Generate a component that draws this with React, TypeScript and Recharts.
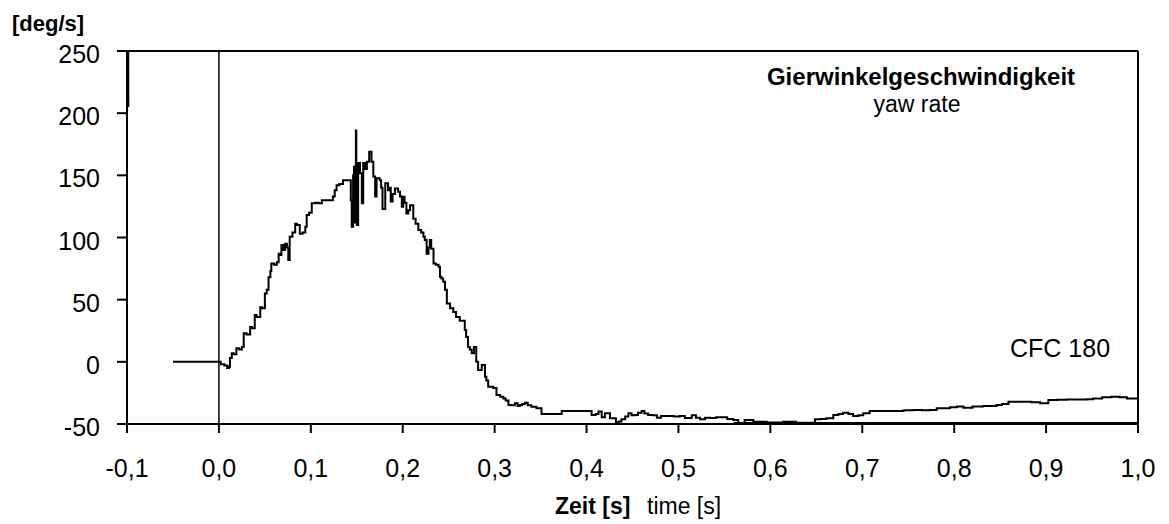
import React from "react";
import { LineChart, Line, XAxis, YAxis, ReferenceLine } from "recharts";

// time [s]
const timeValues: number[] = [
  -0.05, 0.0, 0.002, 0.006, 0.009, 0.011, 0.012, 0.014, 0.016, 0.019, 0.022, 0.025, 0.027, 0.03, 0.034, 0.036,
  0.039, 0.041, 0.045, 0.047, 0.05, 0.052, 0.054, 0.056, 0.057, 0.06, 0.063, 0.065, 0.067, 0.068, 0.07, 0.072,
  0.074, 0.0755, 0.077, 0.08, 0.083, 0.085, 0.088, 0.091, 0.094, 0.0955, 0.098, 0.101, 0.105, 0.108, 0.112,
  0.117, 0.121, 0.124, 0.126, 0.128, 0.131, 0.135, 0.142, 0.1435, 0.1445, 0.146, 0.147, 0.148, 0.149, 0.1495,
  0.15, 0.1515, 0.1535, 0.1555, 0.157, 0.159, 0.161, 0.1635, 0.166, 0.168, 0.17, 0.1715, 0.175, 0.1765, 0.178,
  0.181, 0.184, 0.1855, 0.187, 0.189, 0.1915, 0.195, 0.197, 0.199, 0.2005, 0.202, 0.204, 0.206, 0.208, 0.2115,
  0.214, 0.217, 0.22, 0.2225, 0.224, 0.226, 0.228, 0.2295, 0.231, 0.2335, 0.236, 0.239, 0.2405, 0.242, 0.244,
  0.246, 0.248, 0.2515, 0.255, 0.258, 0.262, 0.2675, 0.269, 0.271, 0.273, 0.275, 0.2775, 0.28, 0.282, 0.286,
  0.2895, 0.291, 0.293, 0.2985, 0.302, 0.306, 0.3095, 0.312, 0.315, 0.318, 0.322, 0.325, 0.3275, 0.33, 0.333,
  0.336, 0.34, 0.3455, 0.351, 0.3675, 0.373, 0.382, 0.4, 0.4055, 0.41, 0.413, 0.4165, 0.42, 0.4255, 0.432,
  0.435, 0.438, 0.442, 0.4455, 0.449, 0.4525, 0.456, 0.46, 0.463, 0.467, 0.472, 0.4765, 0.481, 0.487, 0.495,
  0.5015, 0.507, 0.5145, 0.519, 0.5235, 0.529, 0.5345, 0.541, 0.547, 0.553, 0.5597, 0.565, 0.572, 0.5815,
  0.596, 0.614, 0.628, 0.6415, 0.6485, 0.655, 0.661, 0.6685, 0.674, 0.679, 0.685, 0.69, 0.696, 0.701, 0.708,
  0.72, 0.7335, 0.745, 0.7555, 0.765, 0.7735, 0.781, 0.7955, 0.803, 0.81, 0.82, 0.8315, 0.846, 0.852, 0.859,
  0.8755, 0.884, 0.8935, 0.9025, 0.912, 0.9225, 0.9375, 0.945, 0.951, 0.961, 0.971, 0.98, 0.988, 1.0,
];

// yaw rate [deg/s]
const yawRate: number[] = [
  0, 0, -2, -3, -5, -4, 3, 7, 6, 11, 10, 12, 23, 22, 28, 27,
  37.6, 36, 44, 43, 55, 58, 68, 73, 79, 78, 80, 87, 86, 94, 90, 95,
  92, 82, 100.6, 104, 111, 110, 103, 104, 108.7, 118, 120, 127.5, 128, 127.5, 130,
  130, 130, 133, 138, 142, 143, 146, 146, 130, 108.7, 150, 157, 112, 186, 112,
  110, 160, 151.6, 127.5, 160, 155, 161, 169, 161, 149, 133, 147.6, 146, 140, 123,
  143.6, 138, 140, 129, 135, 139.5, 136.8, 133, 124.7, 132.8, 128, 119.4, 122, 126, 115,
  111, 106, 104, 100.6, 98, 87, 92, 98, 91, 79, 78, 76.5, 68.5, 67, 64.4,
  58, 47, 43, 40, 36, 33, 25.6, 20, 12, 10, 7, 12, 0, -6.6, -2.6,
  -12, -15, -20, -21, -26.7, -28, -29.4, -31, -34.7, -35, -33.4, -35.5, -34.7, -34, -32.9,
  -35, -36.1, -37.4, -42, -42, -39.6, -39.6, -39.6, -42.8, -42, -40, -44.6, -41.4, -45.4, -48.7,
  -48, -46.2, -44, -41.4, -43, -42.8, -41, -39.6, -41.5, -42.8, -43, -44.9, -43.6, -43.6, -44,
  -43.6, -45.2, -43, -45, -46.2, -45, -45.2, -44.6, -44.6, -46, -46.8, -49.5, -46.8, -48.2,
  -48.7, -48.2, -49, -49, -46.2, -46, -45.4, -42.8, -42, -40.9, -42, -43.6, -43, -41.4, -39.6,
  -39.6, -39.6, -39, -38.8, -39, -38.8, -37.4, -36.6, -36, -36.9, -36, -35.5, -34.7, -34, -32.1,
  -32.1, -32.5, -33.4, -30.7, -30.5, -30.2, -30.2, -30, -29.4, -28.5, -28.1, -28.5, -29.4, -29.4,
];

// short trace at the left edge (clipped at the top)
const edgeTime: number[] = [-0.0991, -0.0988];
const edgeValues: number[] = [320, 205];

// trace hugging the bottom axis
const bottomTime: number[] = [0.56, 1.0];
const bottomValues: number[] = [-49.2, -49.2];

const xTicks: number[] = [-0.1, 0, 0.1, 0.2, 0.3, 0.4, 0.5, 0.6, 0.7, 0.8, 0.9, 1.0];
const yTicks: number[] = [-50, 0, 50, 100, 150, 200, 250];

const mainData = timeValues.map((t, i) => ({ t, v: yawRate[i] }));
const edgeData = edgeTime.map((t, i) => ({ t, v: edgeValues[i] }));
const bottomData = bottomTime.map((t, i) => ({ t, v: bottomValues[i] }));

const FONT = '"Liberation Sans", Arial, Helvetica, sans-serif';

const fmt = (v: number) => v.toFixed(1).replace(".", ",");

const XTick = (props: any) => {
  const { x, y, payload } = props;
  return (
    <text x={x} y={y + 44} textAnchor="middle" fontSize={25} fontFamily={FONT} fill="#000">
      {fmt(payload.value)}
    </text>
  );
};

const YTick = (props: any) => {
  const { x, y, payload } = props;
  return (
    <text x={x} y={y + 12} textAnchor="end" fontSize={25} fontFamily={FONT} fill="#000">
      {String(payload.value)}
    </text>
  );
};

export default function App() {
  const W = 1160;
  const H = 516;
  return (
    <div style={{ position: "relative", width: W, height: H, background: "#fff" }}>
      <LineChart width={W} height={H} margin={{ top: 43, right: 30, left: 19, bottom: 40 }}>
        <XAxis
          dataKey="t"
          type="number"
          domain={[-0.1, 1.0]}
          ticks={xTicks}
          allowDataOverflow
          height={60}
          tickSize={9}
          tickMargin={0}
          axisLine={{ stroke: "#000", strokeWidth: 2 }}
          tickLine={{ stroke: "#000", strokeWidth: 2 }}
          tick={<XTick />}
          interval={0}
        />
        <YAxis
          type="number"
          domain={[-50, 250]}
          ticks={yTicks}
          allowDataOverflow
          width={100}
          tickSize={10}
          tickMargin={17}
          axisLine={{ stroke: "#000", strokeWidth: 2 }}
          tickLine={{ stroke: "#000", strokeWidth: 2 }}
          tick={<YTick />}
          interval={0}
        />
        <ReferenceLine y={250} stroke="#000" strokeWidth={2} />
        <ReferenceLine x={1.0} stroke="#000" strokeWidth={2} />
        <ReferenceLine x={0} stroke="#000" strokeWidth={1.5} />
        <Line
          data={bottomData}
          dataKey="v"
          type="linear"
          stroke="#000"
          strokeWidth={1.8}
          dot={false}
          isAnimationActive={false}
        />
        <Line
          data={edgeData}
          dataKey="v"
          type="linear"
          stroke="#000"
          strokeWidth={2.5}
          dot={false}
          isAnimationActive={false}
        />
        <Line
          data={mainData}
          dataKey="v"
          type="stepAfter"
          stroke="#000"
          strokeWidth={2}
          dot={false}
          isAnimationActive={false}
        />
      </LineChart>
      <svg
        width={W}
        height={H}
        style={{ position: "absolute", left: 0, top: 0, pointerEvents: "none" }}
      >
        <text x={4} y={23} fontSize={22} fontWeight="bold" fontFamily={FONT} fill="#000">
          [deg/s]
        </text>
        <text x={913} y={77} textAnchor="middle" fontSize={24} fontWeight="bold" fontFamily={FONT} fill="#000">
          Gierwinkelgeschwindigkeit
        </text>
        <text x={909} y={104} textAnchor="middle" fontSize={23} fontFamily={FONT} fill="#000">
          yaw rate
        </text>
        <text x={1002} y={349} fontSize={25} fontFamily={FONT} fill="#000">
          CFC 180
        </text>
        <text x={547} y={506} fontSize={23} fontWeight="bold" fontFamily={FONT} fill="#000">
          Zeit [s]
        </text>
        <text x={639} y={506} fontSize={23} fontFamily={FONT} fill="#000">
          time [s]
        </text>
      </svg>
    </div>
  );
}
